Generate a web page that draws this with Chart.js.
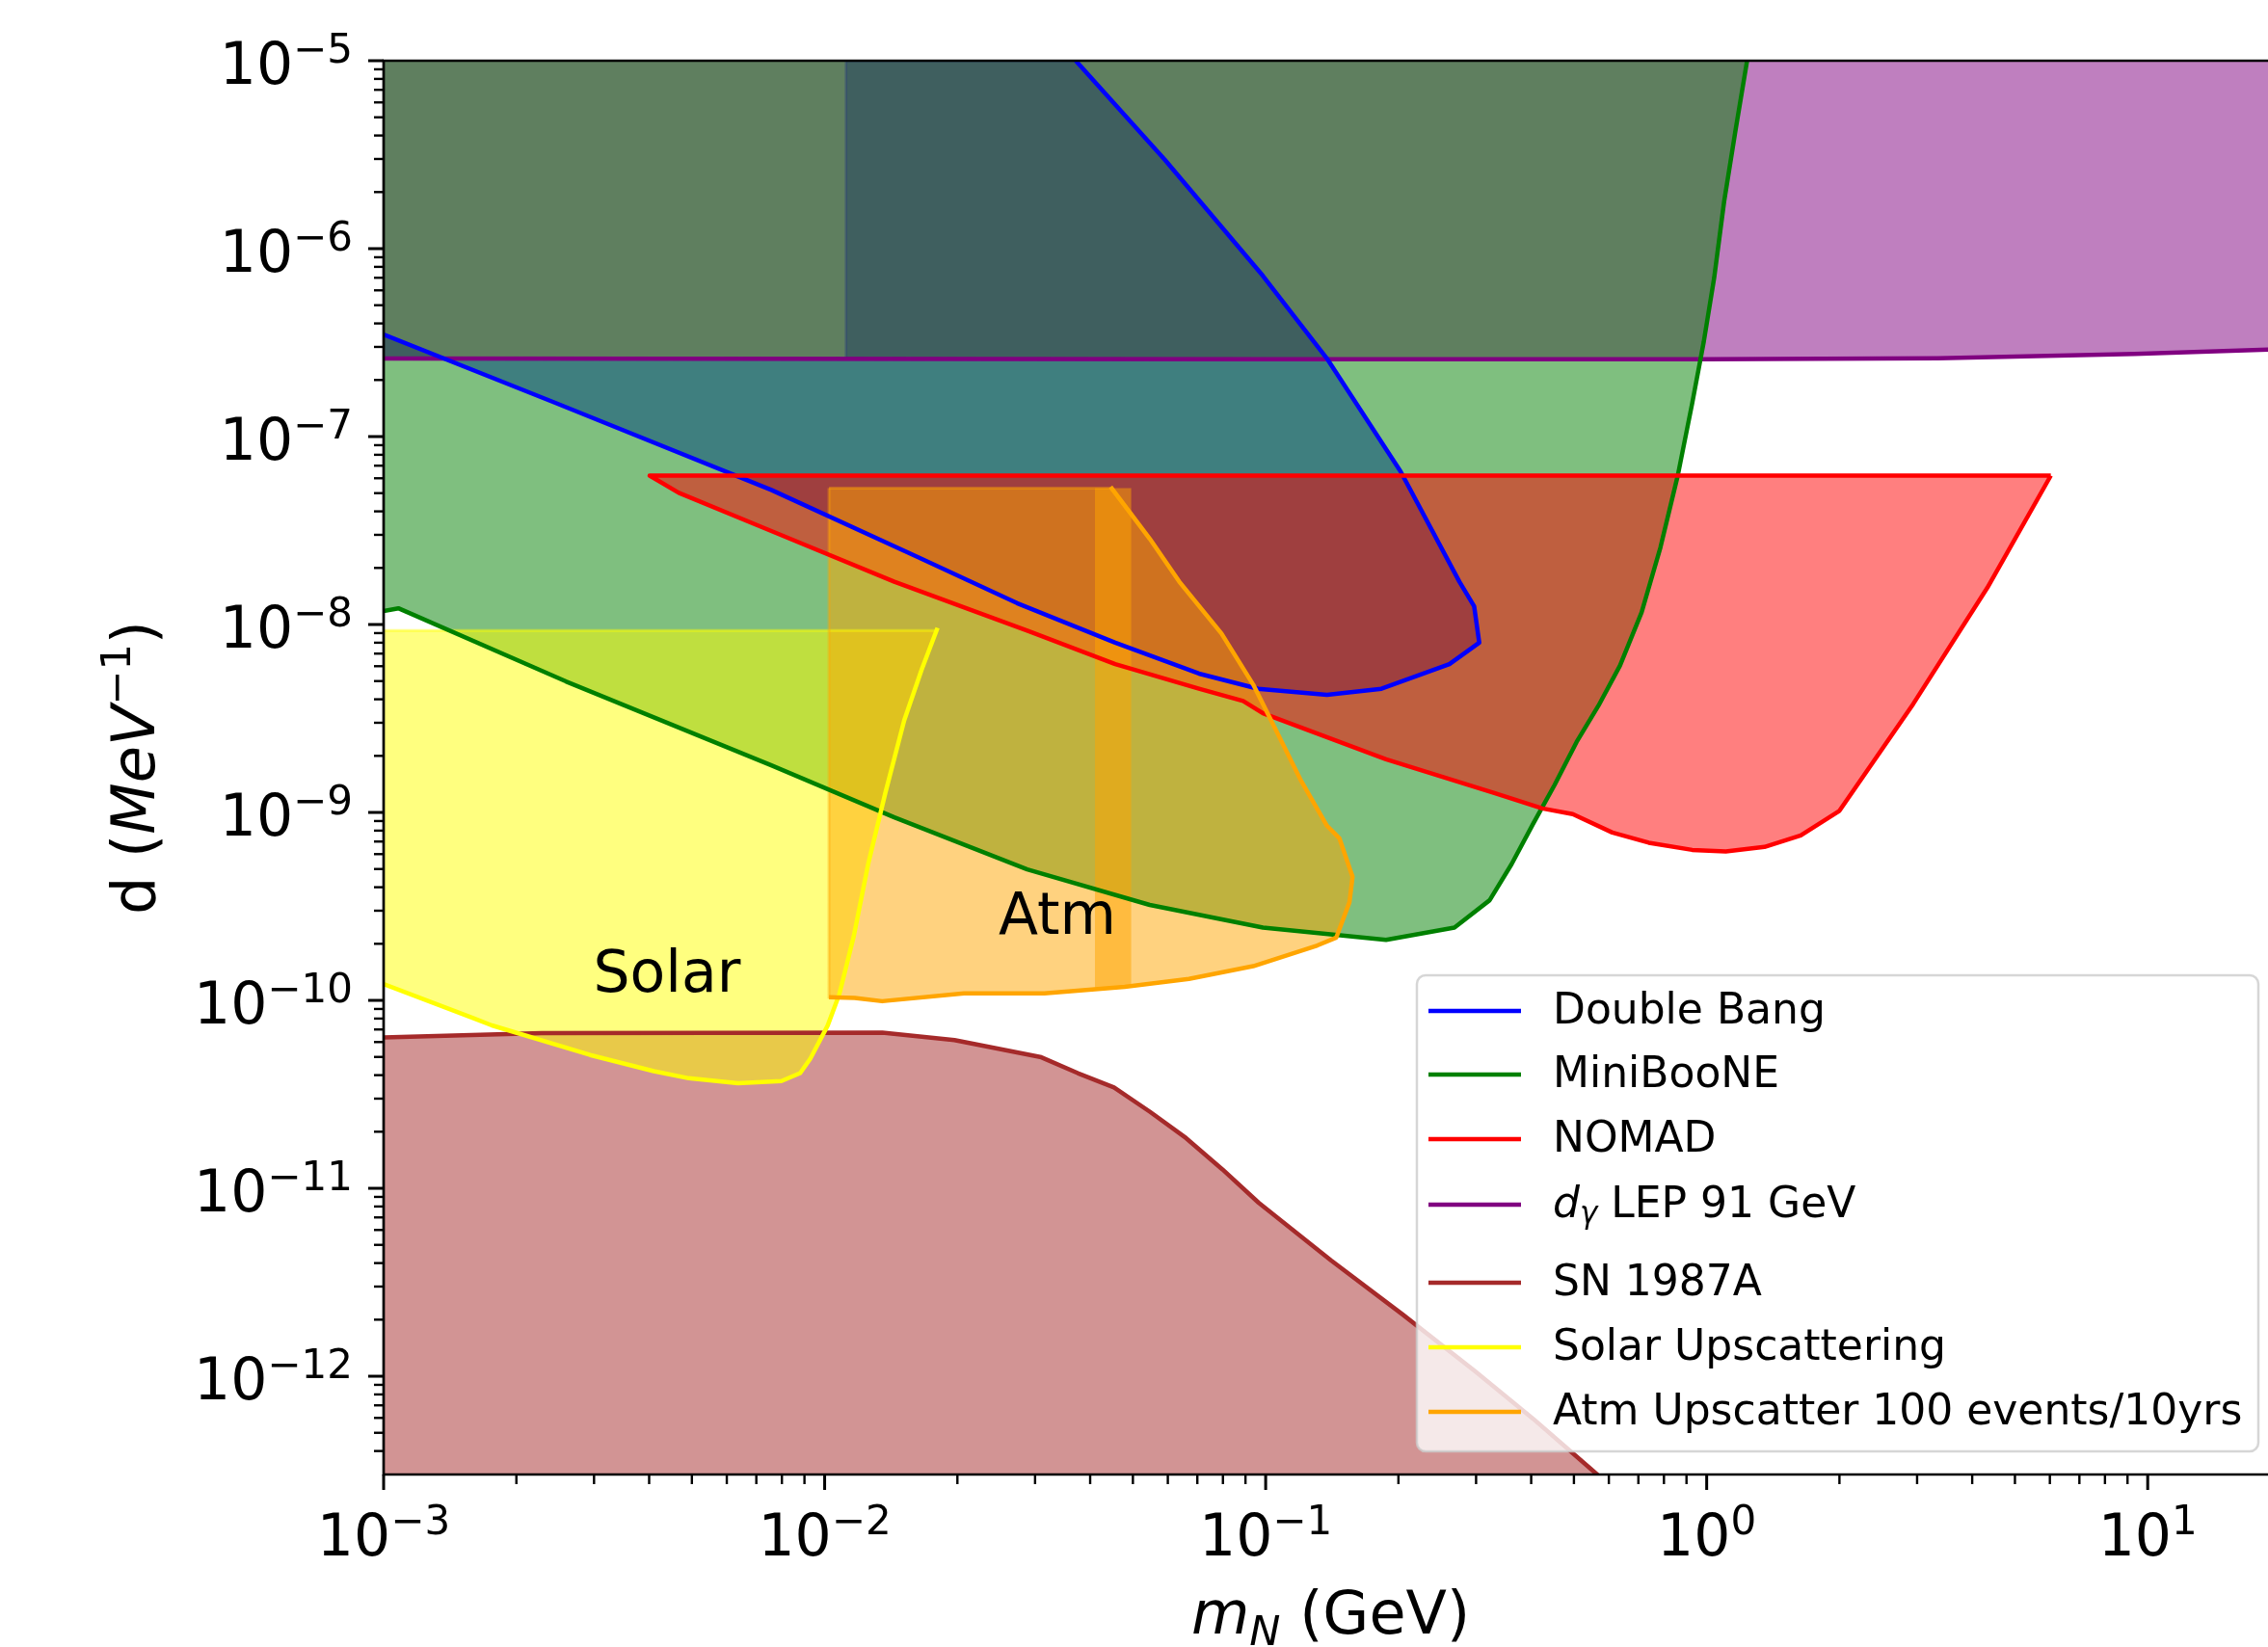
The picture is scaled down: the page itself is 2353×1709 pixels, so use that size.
<!DOCTYPE html>
<html>
<head>
<meta charset="utf-8">
<script src="https://cdn.jsdelivr.net/npm/chart.js@4.4.1/dist/chart.umd.min.js"></script>
<style>
  html, body { margin: 0; padding: 0; background: #fff; }
</style>
</head>
<body>
<canvas id="limitChart" width="2353" height="1709"></canvas>
<script>
// axis ranges: heavy neutrino mass (GeV) vs dipole coupling d (MeV^-1)
const massMin = 1e-3, massMax = 18.74;
const dipoleMin = 3.14e-13, dipoleMax = 1e-5;
const massTickExp = [-3, -2, -1, 0, 1];
const dipoleTickExp = [-5, -6, -7, -8, -9, -10, -11, -12];

// Double Bang: lower edge (left -> tip) and right edge (top -> tip)
const dbLowerM = [1e-3, 2.42e-3, 7.57e-3, 0.0163, 0.0273, 0.0456, 0.0706, 0.0962, 0.1377, 0.183, 0.261, 0.305];
const dbLowerD = [3.49e-7, 1.53e-7, 5.2e-8, 2.28e-8, 1.3e-8, 8.0e-9, 5.48e-9, 4.55e-9, 4.22e-9, 4.55e-9, 6.15e-9, 8.0e-9];
const dbRightM = [0.0371, 0.059, 0.0985, 0.1376, 0.2023, 0.275, 0.297, 0.305];
const dbRightD = [1e-5, 2.98e-6, 7.18e-7, 2.61e-7, 6.52e-8, 1.69e-8, 1.25e-8, 8.0e-9];
// cap of the shaded Double Bang area left of the right edge
const dbCapM = [1e-3, 0.01117, 0.01117];
const dbCapD = [2.6e-7, 2.6e-7, 1e-5];

// d_gamma LEP 91 GeV
const lepM = [1e-3, 0.1, 1, 3.35, 9.33, 20];
const lepD = [2.6e-7, 2.58e-7, 2.58e-7, 2.61e-7, 2.75e-7, 2.92e-7];

// MiniBooNE
const mbM = [1e-3, 1.08e-3, 2.59e-3, 7.57e-3, 0.01439, 0.0288, 0.0546, 0.0986, 0.1875, 0.268, 0.322, 0.361, 0.404, 0.452, 0.507, 0.568, 0.636, 0.712, 0.7855, 0.86, 0.927, 0.985, 1.04, 1.095, 1.163, 1.235];
const mbD = [1.18e-8, 1.22e-8, 4.98e-9, 1.78e-9, 9.42e-10, 4.98e-10, 3.22e-10, 2.44e-10, 2.1e-10, 2.44e-10, 3.41e-10, 5.3e-10, 8.69e-10, 1.4e-9, 2.37e-9, 3.69e-9, 6.05e-9, 1.16e-8, 2.57e-8, 6.21e-8, 1.5e-7, 3.2e-7, 7.0e-7, 1.77e-6, 4.29e-6, 1e-5];

// NOMAD
const nomadTopM = [4.01e-3, 6.03];
const nomadTopD = [6.2e-8, 6.2e-8];
const nomadLowM = [4.01e-3, 4.67e-3, 7.41e-3, 0.01439, 0.0222, 0.0288, 0.0456, 0.0706, 0.0889, 0.0986, 0.1875, 0.33, 0.424, 0.497, 0.611, 0.739, 0.927, 1.105, 1.352, 1.634, 2.0, 2.94, 4.33, 6.03];
const nomadLowD = [6.2e-8, 5.02e-8, 3.21e-8, 1.69e-8, 1.16e-8, 9.27e-9, 6.16e-9, 4.55e-9, 3.92e-9, 3.37e-9, 1.92e-9, 1.27e-9, 1.05e-9, 9.8e-10, 7.82e-10, 6.9e-10, 6.32e-10, 6.2e-10, 6.55e-10, 7.54e-10, 1.02e-9, 3.78e-9, 1.57e-8, 6.2e-8];

// SN 1987A
const snM = [1e-3, 2.28e-3, 0.01352, 0.0197, 0.031, 0.0375, 0.0453, 0.0547, 0.066, 0.0798, 0.0964, 0.1406, 0.205, 0.2987, 0.404, 0.547, 0.65];
const snD = [6.34e-11, 6.69e-11, 6.73e-11, 6.15e-11, 4.98e-11, 4.1e-11, 3.44e-11, 2.55e-11, 1.85e-11, 1.26e-11, 8.38e-12, 4.14e-12, 2.12e-12, 1.06e-12, 5.94e-13, 3.2e-13, 2.25e-13];

// Solar upscattering
const solarM = [1e-3, 1.59e-3, 1.76e-3, 2.94e-3, 4.1e-3, 4.92e-3, 6.36e-3, 7.98e-3, 8.8e-3, 9.28e-3, 0.01016, 0.0108, 0.01164, 0.01255, 0.01374, 0.01515, 0.01659, 0.01803];
const solarD = [1.22e-10, 8.07e-11, 7.36e-11, 5.12e-11, 4.2e-11, 3.85e-11, 3.62e-11, 3.72e-11, 4.1e-11, 4.9e-11, 7.35e-11, 1.08e-10, 2.19e-10, 5.3e-10, 1.28e-9, 3.09e-9, 5.74e-9, 9.6e-9];
const solarTopM = [1e-3, 0.018];
const solarTopD = [9.3e-9, 9.3e-9];

// Atm upscatter 100 events / 10 yrs
const atmTopM = [0.01023, 0.0445];
const atmTopD = [5.32e-8, 5.32e-8];
const atmRightM = [0.0445, 0.0546, 0.0637, 0.0794, 0.0937, 0.1036, 0.1204, 0.1377, 0.147, 0.1574];
const atmRightD = [5.4e-8, 2.86e-8, 1.69e-8, 8.95e-9, 4.79e-9, 2.99e-9, 1.47e-9, 8.5e-10, 7.28e-10, 4.55e-10];
const atmBottomM = [0.01023, 0.0117, 0.0135, 0.0207, 0.0315, 0.0479, 0.067, 0.0937, 0.131, 0.1446, 0.1549, 0.1574];
const atmBottomD = [1.04e-10, 1.03e-10, 9.9e-11, 1.09e-10, 1.09e-10, 1.18e-10, 1.3e-10, 1.52e-10, 1.96e-10, 2.16e-10, 3.33e-10, 4.55e-10];
const atmBandM = [0.041, 0.0496];
const atmBandTopD = [5.32e-8, 5.32e-8];
const atmBandLowD = [1.17e-10, 1.19e-10];

const legendNames = ['Double Bang', 'MiniBooNE', 'NOMAD', 'd_γ LEP 91 GeV', 'SN 1987A', 'Solar Upscattering', 'Atm Upscatter 100 events/10yrs'];

// ---------------------------------------------------------------
const BLUE = '#0000ff', GREEN = '#008000', RED = '#ff0000', PURPLE = '#800080',
      BROWN = '#a52a2a', YELLOW = '#ffff00', ORANGE = '#ffa500';
const NONE = 'rgba(0,0,0,0)';

function pts(ms, ds) { return ms.map((m, i) => ({x: m, y: ds[i]})); }

const datasets = [];
function add(cfg) {
    datasets.push(Object.assign({
        showLine: true, pointRadius: 0, pointHoverRadius: 0,
        borderWidth: 0, borderColor: NONE, fill: false, tension: 0
    }, cfg));
    return datasets.length - 1;
}

// fills (big order = drawn further back)
const dbUpperIdx = add({ data: pts(dbCapM.concat(dbRightM), dbCapD.concat(dbRightD)), order: 95,
    borderColor: 'rgba(0,0,160,0.15)', borderWidth: 3 });
add({ data: pts(dbLowerM, dbLowerD), fill: dbUpperIdx, backgroundColor: 'rgba(0,0,255,0.5)', order: 100 });
add({ data: pts(lepM, lepD), fill: 'end', backgroundColor: 'rgba(128,0,128,0.5)', order: 90 });
add({ data: pts(mbM, mbD), fill: 'end', backgroundColor: 'rgba(0,128,0,0.5)', order: 80 });
const nomadTopIdx = add({ data: pts(nomadTopM, nomadTopD), order: 65 });
add({ data: pts(nomadLowM, nomadLowD), fill: nomadTopIdx, backgroundColor: 'rgba(255,0,0,0.5)', order: 70 });
add({ data: pts(snM, snD), fill: 'start', backgroundColor: 'rgba(165,42,42,0.5)', order: 60 });
const solarTopIdx = add({ data: pts(solarTopM, solarTopD), order: 45,
    borderColor: 'rgba(255,255,0,0.45)', borderWidth: 3 });
add({ data: pts(solarM, solarD), fill: solarTopIdx, backgroundColor: 'rgba(255,255,0,0.5)', order: 50 });
const atmUpperIdx = add({ data: pts(atmTopM.concat(atmRightM.slice(1)), atmTopD.concat(atmRightD.slice(1))), order: 35,
    borderColor: 'rgba(255,165,0,0.4)', borderWidth: 3 });
add({ data: pts([atmTopM[0]].concat(atmBottomM), [atmTopD[0]].concat(atmBottomD)), fill: atmUpperIdx,
    backgroundColor: 'rgba(255,165,0,0.5)', borderColor: 'rgba(255,165,0,0.4)', borderWidth: 3, order: 40 });
const bandTopIdx = add({ data: pts(atmBandM, atmBandTopD), order: 25 });
add({ data: pts(atmBandM, atmBandLowD), fill: bandTopIdx, backgroundColor: 'rgba(255,165,0,0.5)', order: 30 });

// outlines, drawn over every fill
const outline = { borderWidth: 4.5, borderJoinStyle: 'round', borderCapStyle: 'butt' };
add(Object.assign({ label: legendNames[3], data: pts(lepM, lepD), borderColor: PURPLE, order: 8 }, outline));
add(Object.assign({ label: legendNames[0], data: pts(dbLowerM.concat(dbRightM.slice().reverse()), dbLowerD.concat(dbRightD.slice().reverse())), borderColor: BLUE, order: 7 }, outline));
add(Object.assign({ label: legendNames[1], data: pts(mbM, mbD), borderColor: GREEN, order: 6 }, outline));
add(Object.assign({ label: legendNames[2], data: pts(nomadTopM.slice().reverse().concat(nomadLowM), nomadTopD.concat(nomadLowD)), borderColor: RED, order: 5 }, outline));
add(Object.assign({ label: legendNames[4], data: pts(snM, snD), borderColor: BROWN, order: 4 }, outline));
add(Object.assign({ label: legendNames[5], data: pts(solarM, solarD), borderColor: YELLOW, order: 3 }, outline));
add(Object.assign({ label: legendNames[6], data: pts(atmRightM.concat(atmBottomM.slice().reverse()), atmRightD.concat(atmBottomD.slice().reverse())), borderColor: ORANGE, order: 2 }, outline));

const legendColors = [BLUE, GREEN, RED, PURPLE, BROWN, YELLOW, ORANGE];

// draw a row of text runs
function runs(ctx, parts, x, y, align) {
    let w = 0;
    parts.forEach(p => { ctx.font = p.font; p.w = ctx.measureText(p.text).width; w += p.w; });
    let cx = align === 'right' ? x - w : align === 'center' ? x - w / 2 : x;
    parts.forEach(p => {
        ctx.font = p.font;
        ctx.fillText(p.text, cx, y + (p.dy || 0));
        cx += p.w;
    });
}

const FONT = '"DejaVu Sans"';
function pow10(exp) {
    const s = exp < 0 ? '\u2212' + (-exp) : String(exp);
    return [{ text: '10', font: `60px ${FONT}` }, { text: s, font: `42px ${FONT}`, dy: -22 }];
}

const decor = {
    id: 'decor',
    afterDraw(chart) {
        const c = chart.ctx;
        const { left, right, top, bottom } = chart.chartArea;
        const xs = chart.scales.x, ys = chart.scales.y;
        c.save();
        c.fillStyle = '#000';
        c.strokeStyle = '#000';

        // spines
        c.lineWidth = 2.7;
        c.beginPath();
        c.moveTo(left, top); c.lineTo(left, bottom);
        c.moveTo(left - 1.3, bottom); c.lineTo(right, bottom);
        c.moveTo(left - 1.3, top); c.lineTo(right, top);
        c.stroke();

        // ticks
        for (let e = -4; e <= 1; e++) {
            for (let k = 1; k <= 9; k++) {
                const v = k * Math.pow(10, e);
                if (v < massMin * 0.999 || v > massMax) continue;
                const px = xs.getPixelForValue(v);
                c.lineWidth = k === 1 ? 3 : 2.4;
                c.beginPath(); c.moveTo(px, bottom); c.lineTo(px, bottom + (k === 1 ? 16 : 10)); c.stroke();
            }
        }
        for (let e = -13; e <= -5; e++) {
            for (let k = 1; k <= 9; k++) {
                const v = k * Math.pow(10, e);
                if (v < dipoleMin || v > dipoleMax * 1.001) continue;
                const py = ys.getPixelForValue(v);
                c.lineWidth = k === 1 ? 3 : 2.4;
                c.beginPath(); c.moveTo(left, py); c.lineTo(left - (k === 1 ? 16 : 10), py); c.stroke();
            }
        }

        // tick labels
        c.textAlign = 'left';
        c.textBaseline = 'alphabetic';
        massTickExp.forEach(e => runs(c, pow10(e), xs.getPixelForValue(Math.pow(10, e)), 1614, 'center'));
        dipoleTickExp.forEach(e => runs(c, pow10(e), 366, ys.getPixelForValue(Math.pow(10, e)) + 24, 'right'));

        // axis titles
        runs(c, [
            { text: 'm', font: `italic 62px ${FONT}` },
            { text: 'N', font: `italic 43px ${FONT}`, dy: 12 },
            { text: ' (GeV)', font: `62px ${FONT}` }
        ], (left + right) / 2 + 5, 1695, 'center');
        c.save();
        c.translate(160, (top + bottom) / 2);
        c.rotate(-Math.PI / 2);
        runs(c, [
            { text: 'd (', font: `62px ${FONT}` },
            { text: 'MeV', font: `italic 62px ${FONT}` },
            { text: '\u22121', font: `43px ${FONT}`, dy: -25 },
            { text: ')', font: `62px ${FONT}` }
        ], 0, 0, 'center');
        c.restore();

        // region annotations
        c.textBaseline = 'middle';
        runs(c, [{ text: 'Solar', font: `60px ${FONT}` }], xs.getPixelForValue(4.39e-3), ys.getPixelForValue(1.34e-10), 'center');
        runs(c, [{ text: 'Atm', font: `60px ${FONT}` }], xs.getPixelForValue(0.0337), ys.getPixelForValue(2.71e-10), 'center');

        // legend box
        const bx = 1470, by = 1012, bw = 873, bh = 494, r = 9;
        c.beginPath();
        c.moveTo(bx + r, by);
        c.arcTo(bx + bw, by, bx + bw, by + bh, r);
        c.arcTo(bx + bw, by + bh, bx, by + bh, r);
        c.arcTo(bx, by + bh, bx, by, r);
        c.arcTo(bx, by, bx + bw, by, r);
        c.closePath();
        c.fillStyle = 'rgba(255,255,255,0.8)';
        c.fill();
        c.strokeStyle = 'rgba(204,204,204,0.8)';
        c.lineWidth = 2.5;
        c.stroke();

        const rowY = [1049, 1115, 1182, 1250, 1331, 1398, 1465];
        c.fillStyle = '#000';
        legendNames.forEach((name, i) => {
            c.strokeStyle = legendColors[i];
            c.lineWidth = 4.5;
            c.beginPath(); c.moveTo(1482, rowY[i]); c.lineTo(1578, rowY[i]); c.stroke();
            let parts;
            if (name.startsWith('d_γ')) {
                parts = [
                    { text: 'd', font: `italic 44px ${FONT}` },
                    { text: 'γ', font: `italic 31px ${FONT}`, dy: 9 },
                    { text: name.slice(3), font: `44px ${FONT}` }
                ];
            } else {
                parts = [{ text: name, font: `44px ${FONT}` }];
            }
            runs(c, parts, 1611, rowY[i] + 2, 'left');
        });
        c.restore();
    }
};

const limitChart = new Chart(document.getElementById('limitChart').getContext('2d'), {
    type: 'scatter',
    data: { datasets: datasets },
    options: {
        responsive: false,
        animation: false,
        events: [],
        layout: { padding: { left: 398, top: 63, right: 0, bottom: 179 } },
        scales: {
            x: { type: 'logarithmic', min: massMin, max: massMax, display: false },
            y: { type: 'logarithmic', min: dipoleMin, max: dipoleMax, display: false }
        },
        plugins: {
            legend: { display: false },
            tooltip: { enabled: false },
            filler: { drawTime: 'beforeDatasetsDraw' }
        }
    },
    plugins: [decor]
});
</script>
</body>
</html>
